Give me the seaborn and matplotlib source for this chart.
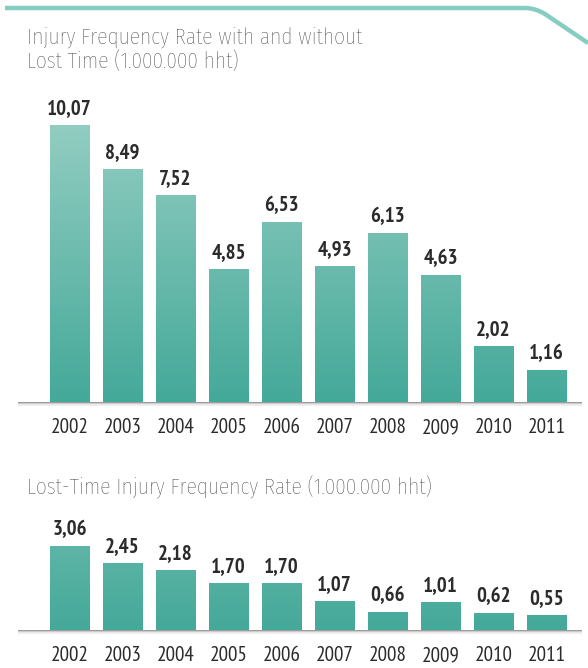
import numpy as np
import pandas as pd
import seaborn as sns
import matplotlib
matplotlib.use("Agg")
import matplotlib.pyplot as plt
from matplotlib.lines import Line2D
from matplotlib.path import Path
from matplotlib.patches import PathPatch
from matplotlib.colors import LinearSegmentedColormap

years = ["2002", "2003", "2004", "2005", "2006", "2007", "2008", "2009", "2010", "2011"]
ifr_total = [10.07, 8.49, 7.52, 4.85, 6.53, 4.93, 6.13, 4.63, 2.02, 1.16]
ifr_lost = [3.06, 2.45, 2.18, 1.70, 1.70, 1.07, 0.66, 1.01, 0.62, 0.55]
title_top = ["Injury Frequency Rate with and without", "Lost Time (1.000.000 hht)"]
title_bottom = "Lost-Time Injury Frequency Rate (1.000.000 hht)"

sns.set_theme(style="white")
FONT = ["Fira Sans Condensed", "DejaVu Sans"]
NUMFONT = ["PT Sans Narrow", "Fira Sans Condensed", "DejaVu Sans"]
plt.rcParams["font.family"] = FONT

W, H = 588, 668
fig = plt.figure(figsize=(W / 100, H / 100), dpi=100)
fig.patch.set_facecolor("white")

PX_PER_UNIT = 27.5
LEFT_PX, RIGHT_PX = 43, 573

cmap = LinearSegmentedColormap.from_list("g", ["#44a999", "#92cdc1"])


def make_axes(base_px, ymax):
    h_px = ymax * PX_PER_UNIT
    return fig.add_axes([LEFT_PX / W, 1 - base_px / H, (RIGHT_PX - LEFT_PX) / W, h_px / H])


def draw_chart(ax, values, ymax, grad_top):
    df = pd.DataFrame({"year": years, "value": values})
    sns.barplot(data=df, x="year", y="value", ax=ax, width=0.736, color="#6dbcae",
                saturation=1, errorbar=None)
    grad = np.linspace(0, 1, 256).reshape(-1, 1)
    for p in ax.patches:
        x0, w = p.get_x(), p.get_width()
        img = ax.imshow(grad, cmap=cmap, vmin=0, vmax=1, origin="lower", aspect="auto",
                        extent=[x0, x0 + w, 0, grad_top], zorder=2, interpolation="bilinear")
        img.set_clip_path(p)
        p.set_facecolor("none")
        p.set_edgecolor("none")
    ax.set_xlim(-0.5, len(years) - 0.5)
    ax.set_ylim(0, ymax)
    for i, v in enumerate(values):
        ax.annotate(f"{v:.2f}".replace(".", ","), (i, v), xytext=(0, 11),
                    textcoords="offset pixels", ha="center", va="baseline",
                    fontsize=15, fontweight="bold", color="#2b2b2b", family=NUMFONT)
    for i, yr in enumerate(years):
        ax.annotate(yr, (i, 0), xytext=(0, -31), textcoords="offset pixels",
                    ha="center", va="baseline", fontsize=15.2, color="#2b2b2b",
                    family=NUMFONT, annotation_clip=False)
    ax.set_xlabel("")
    ax.set_ylabel("")
    ax.set_yticks([])
    ax.tick_params(axis="x", length=0, labelbottom=False)
    for s in ax.spines.values():
        s.set_visible(False)
    ax.patch.set_alpha(0)


ax1 = make_axes(402, 11.0)
draw_chart(ax1, ifr_total, 11.0, 10.1)
ax2 = make_axes(630, 3.5)
draw_chart(ax2, ifr_lost, 3.5, 9.3)


def baseline(y_px):
    yf = 1 - y_px / H
    for k, (c, lw) in enumerate([("#9a9a9a", 1.4), ("#d6d6d6", 1.2), ("#ececec", 1.2)]):
        fig.add_artist(Line2D([18 / W, 582 / W], [yf - k * 1.2 / H, yf - k * 1.2 / H],
                              color=c, lw=lw, solid_capstyle="butt", zorder=0.5))


baseline(402.5)
baseline(630.5)

for line, ypx in zip(title_top, [44, 68]):
    fig.text(27 / W, 1 - ypx / H, line, ha="left", va="baseline", fontsize=15.5,
             color="#3a3a3a", family=FONT, fontweight="light")
fig.text(27 / W, 1 - 495 / H, title_bottom, ha="left", va="baseline", fontsize=15.5,
         color="#3a3a3a", family=FONT, fontweight="light")

# decorative top line
verts = [(5, 8), (525, 8), (535, 8), (545, 14), (588, 43)]
codes = [Path.MOVETO, Path.LINETO, Path.CURVE3, Path.CURVE3, Path.LINETO]
verts_f = [(x / W, 1 - y / H) for x, y in verts]
fig.add_artist(PathPatch(Path(verts_f, codes), transform=fig.transFigure,
                         facecolor="none", edgecolor="#86cdc1", lw=3.2, capstyle="butt"))

fig.savefig("out.png", dpi=100, facecolor="white")
